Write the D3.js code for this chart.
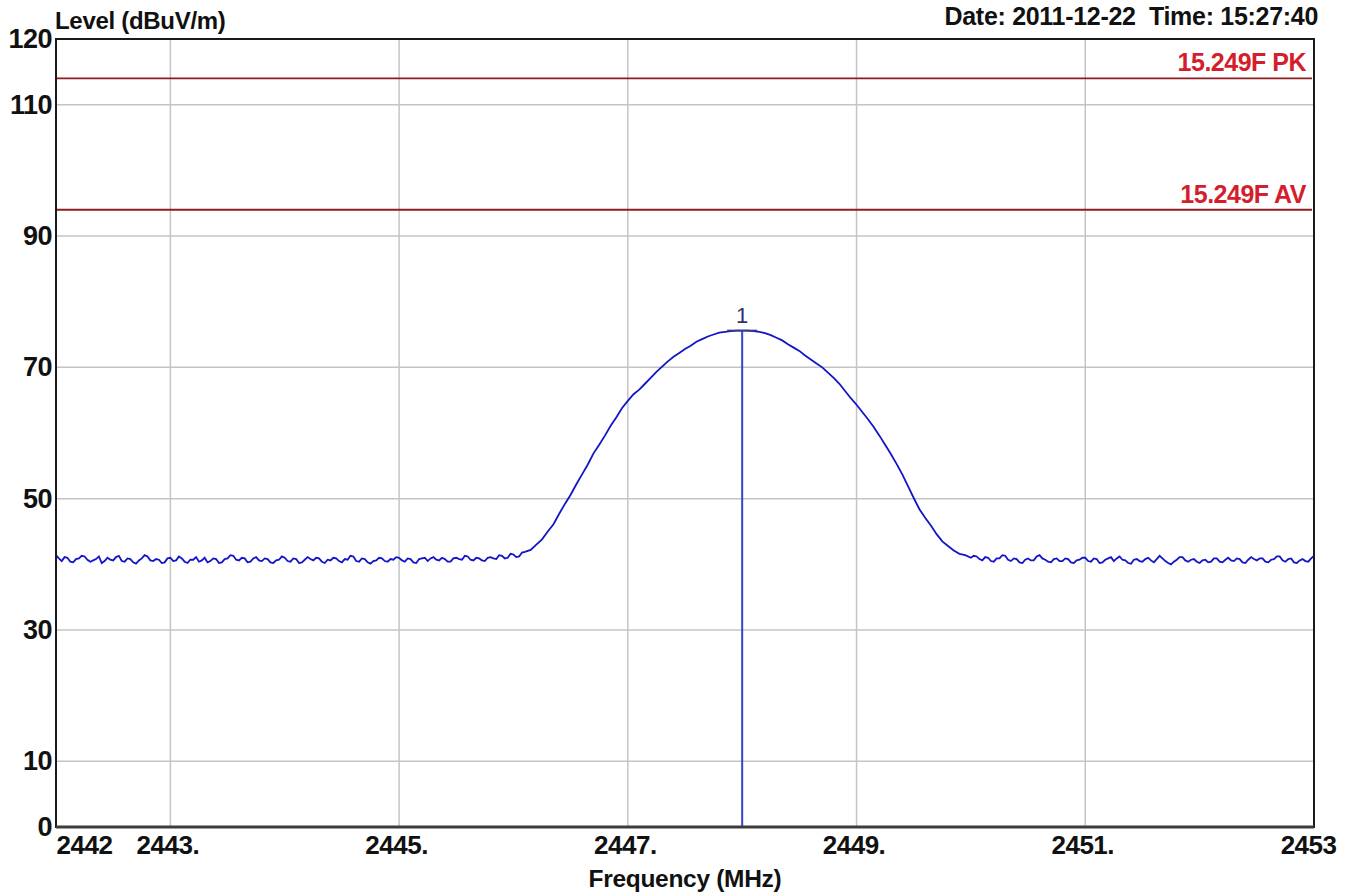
<!DOCTYPE html>
<html>
<head>
<meta charset="utf-8">
<script src="https://cdn.jsdelivr.net/npm/d3@7"></script>
<style>
  body { margin: 0; background: #fff; }
  svg { display: block; font-family: "Liberation Sans", Arial, sans-serif; }
</style>
</head>
<body>
<svg id="canvas"></svg>
<script>
let w = 1354;
let h = 895;

let plotLeft = 56, plotRight = 1314, plotTop = 39, plotBottom = 827;

// axis setup
let yTicks = [0, 10, 30, 50, 70, 90, 110, 120];
let yGrid = [10, 30, 50, 70, 90, 110];
let xTicks = [2442, 2443, 2445, 2447, 2449, 2451, 2453];
let xTickLabels = ['2442', '2443.', '2445.', '2447.', '2449.', '2451.', '2453'];
let xGrid = [2443, 2445, 2447, 2449, 2451];

// limit lines
let limits = [
  {name: '15.249F PK', level: 114},
  {name: '15.249F AV', level: 94}
];

// marker 1
let marker = {label: '1', freq: 2448.0, level: 75.6};

// measured trace, [MHz, dBuV/m]
let trace = [
  [2442.000,41.4],[2442.025,40.9],[2442.050,40.5],[2442.075,41.1],[2442.100,41.0],[2442.125,40.4],[2442.150,40.3],[2442.175,40.8],[2442.200,40.9],[2442.225,41.3],
  [2442.250,41.2],[2442.275,40.7],[2442.300,40.4],[2442.325,40.6],[2442.350,40.8],[2442.375,41.2],[2442.400,40.2],[2442.425,40.5],[2442.450,41.0],[2442.475,40.7],
  [2442.500,40.6],[2442.525,41.1],[2442.550,41.3],[2442.575,40.5],[2442.600,40.4],[2442.625,40.9],[2442.650,40.8],[2442.675,40.3],[2442.700,40.1],[2442.725,40.6],
  [2442.750,40.9],[2442.775,41.4],[2442.800,41.2],[2442.825,40.6],[2442.850,40.5],[2442.875,40.8],[2442.900,40.7],[2442.925,40.2],[2442.950,40.3],[2442.975,40.9],
  [2443.000,41.0],[2443.025,40.5],[2443.050,40.6],[2443.075,41.2],[2443.100,40.9],[2443.125,40.4],[2443.150,40.2],[2443.175,40.7],[2443.200,40.7],[2443.225,41.1],
  [2443.250,40.4],[2443.275,40.6],[2443.300,41.0],[2443.325,40.3],[2443.350,40.5],[2443.375,40.9],[2443.400,40.8],[2443.425,40.2],[2443.450,40.3],[2443.475,40.8],
  [2443.500,40.9],[2443.525,41.4],[2443.550,41.3],[2443.575,40.7],[2443.600,40.6],[2443.625,41.0],[2443.650,40.9],[2443.675,40.3],[2443.700,40.4],[2443.725,40.9],
  [2443.750,41.1],[2443.775,40.6],[2443.800,40.5],[2443.825,40.9],[2443.850,40.8],[2443.875,40.3],[2443.900,40.2],[2443.925,40.6],[2443.950,40.7],[2443.975,41.2],
  [2444.000,41.0],[2444.025,40.5],[2444.050,40.4],[2444.075,40.9],[2444.100,40.8],[2444.125,40.2],[2444.150,40.3],[2444.175,40.7],[2444.200,41.1],[2444.225,40.8],
  [2444.250,40.6],[2444.275,41.0],[2444.300,40.9],[2444.325,40.4],[2444.350,40.2],[2444.375,40.7],[2444.400,40.6],[2444.425,41.0],[2444.450,40.9],[2444.475,40.5],
  [2444.500,40.3],[2444.525,40.8],[2444.550,40.7],[2444.575,41.3],[2444.600,41.2],[2444.625,40.5],[2444.650,40.4],[2444.675,40.9],[2444.700,40.8],[2444.725,40.3],
  [2444.750,40.1],[2444.775,40.5],[2444.800,40.6],[2444.825,41.0],[2444.850,40.9],[2444.875,40.5],[2444.900,40.4],[2444.925,40.8],[2444.950,40.7],[2444.975,41.1],
  [2445.000,41.0],[2445.025,40.6],[2445.050,40.4],[2445.075,40.9],[2445.100,40.8],[2445.125,40.3],[2445.150,40.2],[2445.175,40.8],[2445.200,40.9],[2445.225,41.0],
  [2445.250,40.5],[2445.275,40.9],[2445.300,41.1],[2445.325,40.7],[2445.350,40.6],[2445.375,41.0],[2445.400,40.8],[2445.425,40.4],[2445.450,40.4],[2445.475,40.9],
  [2445.500,41.0],[2445.525,40.8],[2445.550,40.7],[2445.575,41.3],[2445.600,41.2],[2445.625,40.7],[2445.650,40.6],[2445.675,41.0],[2445.700,40.9],[2445.725,40.6],
  [2445.750,40.5],[2445.775,41.0],[2445.800,41.1],[2445.825,40.9],[2445.850,40.8],[2445.875,41.4],[2445.900,41.3],[2445.925,40.9],[2445.950,41.0],[2445.975,41.6],
  [2446.000,41.5],[2446.025,41.1],[2446.050,41.2],[2446.075,41.8],[2446.100,41.9],
  [2446.15,42.2],[2446.20,43.0],[2446.25,43.8],[2446.30,45.0],[2446.35,46.1],[2446.40,47.7],[2446.45,49.2],
  [2446.50,50.6],[2446.55,52.2],[2446.60,53.7],[2446.65,55.2],[2446.70,56.9],[2446.75,58.2],[2446.80,59.6],[2446.85,61.1],[2446.90,62.4],[2446.95,63.8],
  [2447.00,64.9],[2447.05,65.9],[2447.10,66.6],[2447.15,67.5],[2447.20,68.4],[2447.25,69.3],[2447.30,70.1],[2447.35,70.9],[2447.40,71.6],[2447.45,72.2],
  [2447.50,72.8],[2447.55,73.3],[2447.60,73.9],[2447.65,74.3],[2447.70,74.7],[2447.75,75.0],[2447.80,75.3],[2447.85,75.4],[2447.90,75.5],[2447.95,75.6],
  [2448.00,75.6],[2448.05,75.6],[2448.10,75.5],[2448.15,75.4],[2448.20,75.2],[2448.25,74.9],[2448.30,74.5],[2448.35,74.1],[2448.40,73.5],[2448.45,73.0],
  [2448.50,72.5],[2448.55,71.8],[2448.60,71.2],[2448.65,70.6],[2448.70,70.0],[2448.75,69.2],[2448.80,68.4],[2448.85,67.5],[2448.90,66.4],[2448.95,65.3],
  [2449.00,64.3],[2449.05,63.2],[2449.10,62.1],[2449.15,60.9],[2449.20,59.6],[2449.25,58.2],[2449.30,56.8],[2449.35,55.3],[2449.40,53.7],[2449.45,51.9],
  [2449.50,50.1],[2449.55,48.4],[2449.60,47.1],[2449.65,45.9],[2449.70,44.6],[2449.75,43.5],[2449.80,42.8],[2449.85,42.1],[2449.90,41.6],[2449.95,41.4],
  [2450.000,41.0],[2450.025,41.3],[2450.050,41.2],[2450.075,40.8],[2450.100,40.6],[2450.125,41.1],[2450.150,41.0],[2450.175,40.5],[2450.200,40.4],[2450.225,40.9],
  [2450.250,40.9],[2450.275,41.4],[2450.300,41.3],[2450.325,40.7],[2450.350,40.5],[2450.375,40.9],[2450.400,40.8],[2450.425,40.3],[2450.450,40.2],[2450.475,40.7],
  [2450.500,40.9],[2450.525,40.6],[2450.550,40.6],[2450.575,41.2],[2450.600,41.4],[2450.625,40.9],[2450.650,40.7],[2450.675,40.4],[2450.700,40.3],[2450.725,40.8],
  [2450.750,40.9],[2450.775,40.5],[2450.800,40.5],[2450.825,40.9],[2450.850,40.8],[2450.875,40.3],[2450.900,40.2],[2450.925,40.6],[2450.950,40.7],[2450.975,41.0],
  [2451.000,41.0],[2451.025,40.5],[2451.050,40.4],[2451.075,40.9],[2451.100,40.8],[2451.125,40.2],[2451.150,40.3],[2451.175,40.7],[2451.200,40.9],[2451.225,41.1],
  [2451.250,40.5],[2451.275,40.9],[2451.300,41.2],[2451.325,40.7],[2451.350,40.6],[2451.375,40.2],[2451.400,40.1],[2451.425,40.7],[2451.450,40.8],[2451.475,40.5],
  [2451.500,40.4],[2451.525,40.8],[2451.550,41.0],[2451.575,40.6],[2451.600,40.3],[2451.625,40.8],[2451.650,41.3],[2451.675,40.9],[2451.700,40.5],[2451.725,40.2],
  [2451.750,40.0],[2451.775,40.4],[2451.800,40.7],[2451.825,41.1],[2451.850,41.1],[2451.875,40.6],[2451.900,40.4],[2451.925,40.7],[2451.950,40.8],[2451.975,40.4],
  [2452.000,40.2],[2452.025,40.6],[2452.050,40.7],[2452.075,40.3],[2452.100,40.4],[2452.125,40.9],[2452.150,40.9],[2452.175,40.4],[2452.200,40.3],[2452.225,40.7],
  [2452.250,41.0],[2452.275,40.6],[2452.300,40.5],[2452.325,40.9],[2452.350,40.8],[2452.375,40.3],[2452.400,40.2],[2452.425,40.7],[2452.450,41.1],[2452.475,40.8],
  [2452.500,40.6],[2452.525,40.9],[2452.550,40.9],[2452.575,40.4],[2452.600,40.3],[2452.625,40.7],[2452.650,40.8],[2452.675,41.2],[2452.700,41.2],[2452.725,40.6],
  [2452.750,40.4],[2452.775,40.8],[2452.800,40.9],[2452.825,40.3],[2452.850,40.2],[2452.875,40.6],[2452.900,40.8],[2452.925,40.5],[2452.950,40.4],[2452.975,40.9],
  [2453.000,41.3]
];

let canvas = d3.select('#canvas').attr('width', w).attr('height', h);

let xScale = d3.scaleLinear().domain([2442, 2453]).range([plotLeft, plotRight]);
let yScale = d3.scaleLinear().domain([0, 120]).range([plotBottom, plotTop]);

// grid
canvas.append('g').selectAll('line')
  .data(yGrid).enter().append('line')
  .attr('x1', plotLeft).attr('x2', plotRight)
  .attr('y1', d => yScale(d)).attr('y2', d => yScale(d))
  .attr('stroke', '#c4c4c4').attr('stroke-width', 1.5);

canvas.append('g').selectAll('line')
  .data(xGrid).enter().append('line')
  .attr('x1', d => xScale(d)).attr('x2', d => xScale(d))
  .attr('y1', plotTop).attr('y2', plotBottom)
  .attr('stroke', '#c4c4c4').attr('stroke-width', 1.5);

// limit lines + labels
canvas.append('g').selectAll('line')
  .data(limits).enter().append('line')
  .attr('x1', plotLeft).attr('x2', plotRight - 2)
  .attr('y1', d => yScale(d.level)).attr('y2', d => yScale(d.level))
  .attr('stroke', '#8e1c22').attr('stroke-width', 1.8);

canvas.append('g').selectAll('text')
  .data(limits).enter().append('text')
  .attr('x', plotRight - 8)
  .attr('y', d => yScale(d.level) - 7)
  .attr('text-anchor', 'end')
  .attr('font-size', 25).attr('font-weight', 'bold')
  .attr('letter-spacing', -0.5)
  .attr('fill', '#d41e2c')
  .text(d => d.name);

// trace
let line = d3.line().x(d => xScale(d[0])).y(d => yScale(d[1]));
canvas.append('path')
  .datum(trace)
  .attr('d', line)
  .attr('fill', 'none')
  .attr('stroke', '#1414c8')
  .attr('stroke-width', 1.8);

// marker
let mx = xScale(marker.freq), my = yScale(marker.level);
canvas.append('line')
  .attr('x1', mx).attr('x2', mx).attr('y1', my).attr('y2', plotBottom)
  .attr('stroke', '#3a40d0').attr('stroke-width', 2);
canvas.append('line')
  .attr('x1', mx - 15).attr('x2', mx + 15).attr('y1', my).attr('y2', my)
  .attr('stroke', '#3a3a80').attr('stroke-width', 1.8);
canvas.append('text')
  .attr('x', mx).attr('y', my - 8)
  .attr('text-anchor', 'middle')
  .attr('font-size', 22).attr('fill', '#30306a')
  .text(marker.label);

// frame
canvas.append('rect')
  .attr('x', plotLeft).attr('y', plotTop)
  .attr('width', plotRight - plotLeft).attr('height', plotBottom - plotTop)
  .attr('fill', 'none').attr('stroke', '#1a1a1a').attr('stroke-width', 2);
canvas.append('line')
  .attr('x1', plotLeft).attr('x2', plotRight).attr('y1', plotBottom).attr('y2', plotBottom)
  .attr('stroke', '#3c3c3c').attr('stroke-width', 3);

// y axis labels
let yAxis = d3.axisLeft(yScale).tickValues(yTicks).tickSize(0).tickPadding(4);
let gy = canvas.append('g')
  .attr('transform', 'translate(' + plotLeft + ', 0)')
  .call(yAxis);
gy.select('.domain').remove();
gy.selectAll('text')
  .attr('font-size', 27).attr('font-weight', 'bold').attr('fill', '#111')
  .attr('letter-spacing', -0.5)
  .attr('font-family', '"Liberation Sans", Arial, sans-serif');

// x axis labels
let xAxis = d3.axisBottom(xScale).tickValues(xTicks).tickSize(0).tickPadding(9)
  .tickFormat((d, i) => xTickLabels[i]);
let gx = canvas.append('g')
  .attr('transform', 'translate(0, ' + plotBottom + ')')
  .call(xAxis);
gx.select('.domain').remove();
gx.selectAll('text')
  .attr('font-size', 26).attr('font-weight', 'bold').attr('fill', '#111')
  .attr('letter-spacing', -0.5)
  .attr('font-family', '"Liberation Sans", Arial, sans-serif')
  .attr('text-anchor', (d, i) => i === 0 ? 'start' : (i === xTicks.length - 1 ? 'end' : 'middle'))
  .attr('dx', (d, i) => i === 0 ? 0 : (i === xTicks.length - 1 ? 22 : -3));

// titles
canvas.append('text')
  .attr('x', 55).attr('y', 29)
  .attr('font-size', 24).attr('font-weight', 'bold').attr('fill', '#111')
  .attr('letter-spacing', -0.3)
  .text('Level (dBuV/m)');

canvas.append('text')
  .attr('x', 1318).attr('y', 25)
  .attr('text-anchor', 'end')
  .attr('font-size', 25).attr('font-weight', 'bold').attr('fill', '#111')
  .attr('letter-spacing', -0.3)
  .style('white-space', 'pre')
  .text('Date: 2011-12-22  Time: 15:27:40');

canvas.append('text')
  .attr('x', 685).attr('y', 887)
  .attr('text-anchor', 'middle')
  .attr('font-size', 24.5).attr('font-weight', 'bold').attr('fill', '#111')
  .attr('letter-spacing', -0.3)
  .text('Frequency (MHz)');
</script>
</body>
</html>
